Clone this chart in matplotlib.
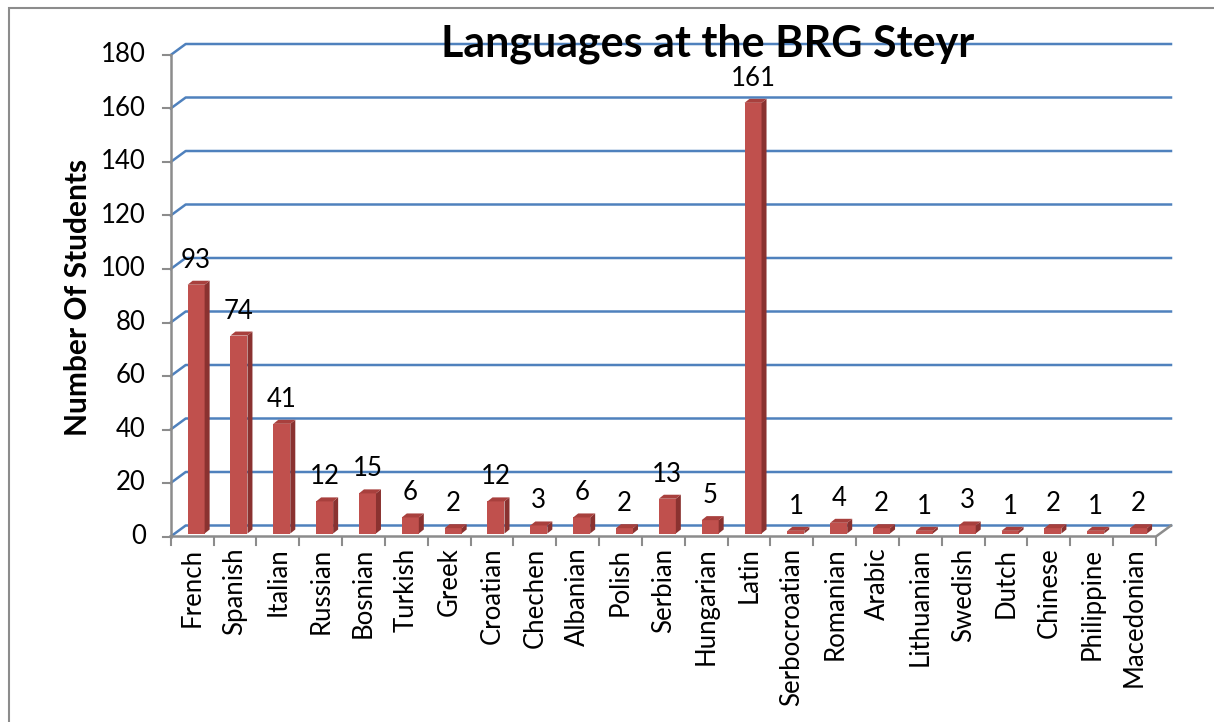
import numpy as np
import matplotlib
matplotlib.use("Agg")
import matplotlib.pyplot as plt
from matplotlib.patches import Polygon, Rectangle

plt.rcParams['font.family'] = ['Lato', 'DejaVu Sans']

# data
languages = ["French", "Spanish", "Italian", "Russian", "Bosnian", "Turkish", "Greek",
             "Croatian", "Chechen", "Albanian", "Polish", "Serbian", "Hungarian", "Latin",
             "Serbocroatian", "Romanian", "Arabic", "Lithuanian", "Swedish", "Dutch",
             "Chinese", "Philippine", "Macedonian"]
students = [93, 74, 41, 12, 15, 6, 2, 12, 3, 6, 2, 13, 5, 161, 1, 4, 2, 1, 3, 1, 2, 1, 2]
yticks = [0, 20, 40, 60, 80, 100, 120, 140, 160, 180]

W, H = 1214, 722
fig = plt.figure(figsize=(W / 100, H / 100), dpi=100)

# front plane in pixels
x0, x1 = 170.7, 1156
y0, y1 = 536.5, 55
ax = fig.add_axes([x0 / W, 1 - y0 / H, (x1 - x0) / W, (y0 - y1) / H])
n = len(languages)
ax.set_xlim(-0.5, n - 0.5)
ax.set_ylim(0, 180)
ax.axis('off')

pxu = (x1 - x0) / n          # px per category
pyu = (y0 - y1) / 180        # px per unit
dx, dy = 15 / pxu, 11 / pyu  # depth of the floor/walls

blue = '#4F81BD'
gray = '#8C8C8C'
fs = 18.5

# gridlines (back wall + left wall diagonal)
for v in yticks:
    ax.plot([-0.5, -0.5 + dx, n - 0.5 + dx], [v, v + dy, v + dy],
            color=blue, lw=1.8, clip_on=False, zorder=1)
    ax.plot([-0.5 - 8 / pxu, -0.5], [v, v], color=gray, lw=1.5, clip_on=False, zorder=2)
    ax.text(-0.5 - 25 / pxu, v, str(v), ha='right', va='center', fontsize=fs)

# axes lines
ax.plot([-0.5, -0.5], [0, 180], color=gray, lw=1.8, clip_on=False, zorder=2)
ax.plot([-0.5, n - 0.5, n - 0.5 + dx], [0, 0, dy], color=gray, lw=1.8,
        clip_on=False, zorder=4)
for i in range(n + 1):
    ax.plot([i - 0.5, i - 0.5], [0, -8 / pyu], color=gray, lw=1.5, clip_on=False, zorder=2)

# 3d bars
bw = 17 / pxu
sx, sy = 4 / pxu, 3 / pyu        # bar position inside depth
bdx, bdy = 5 / pxu, 4 / pyu      # bar depth
for i, v in enumerate(students):
    l = i - bw / 2 + sx
    r = l + bw
    b = sy
    t = v + sy
    ax.add_patch(Polygon([[l, b], [r, b], [r, t], [l, t]], closed=True,
                         fc='#C0504D', ec='none', zorder=5))
    ax.add_patch(Polygon([[r, b], [r + bdx, b + bdy], [r + bdx, t + bdy], [r, t]],
                         closed=True, fc='#8A3230', ec='none', zorder=5))
    ax.add_patch(Polygon([[l, t], [r, t], [r + bdx, t + bdy], [l + bdx, t + bdy]],
                         closed=True, fc='#A8403D', ec='none', zorder=5))
    ax.text(i + sx, t + 12 / pyu, str(v), ha='center', va='bottom', fontsize=fs, zorder=6)
    ax.text(i, -11 / pyu, languages[i], ha='center', va='top', rotation=90, fontsize=fs)

fig.text(708 / W, 1 - 44 / H, "Languages at the BRG Steyr", ha='center', va='center',
         fontsize=31, fontweight='bold')
fig.text(78 / W, 1 - 297 / H, "Number Of Students", ha='center', va='center',
         rotation=90, fontsize=21.5, fontweight='bold')

# chart border
fig.add_artist(Rectangle((9 / W, -0.05), 1.1, 1.05 - 8 / H, transform=fig.transFigure,
                         fill=False, ec=gray, lw=1.5))

fig.savefig("out.png", dpi=100)
